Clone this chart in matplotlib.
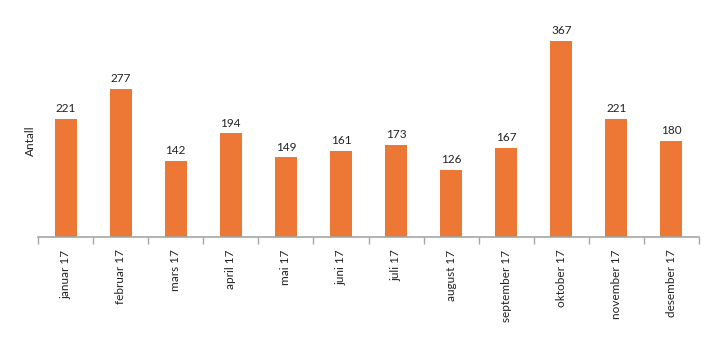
import matplotlib
matplotlib.use('Agg')
import matplotlib.pyplot as plt
import numpy as np

months = ['januar 17', 'februar 17', 'mars 17', 'april 17', 'mai 17', 'juni 17',
          'juli 17', 'august 17', 'september 17', 'oktober 17', 'november 17', 'desember 17']
antall = [221, 277, 142, 194, 149, 161, 173, 126, 167, 367, 221, 180]

plt.rcParams['font.family'] = ['Lato', 'DejaVu Sans']

fig = plt.figure(figsize=(7.2, 3.41), dpi=100)
ax = fig.add_axes([38/720, 104/341, 661/720, 213.6/341])

x = np.arange(len(months))
ax.bar(x, antall, width=0.4, color='#ED7836')
for xi, v in zip(x, antall):
    ax.text(xi, v + 9, str(v), ha='center', va='bottom', fontsize=8.5, color='#222222')

ax.set_xlim(-0.5, len(months) - 0.5)
ax.set_ylim(0, 400)
ax.set_yticks([])
for s in ['top', 'right', 'left']:
    ax.spines[s].set_visible(False)
ax.spines['bottom'].set_color('#A6A6A6')
ax.spines['bottom'].set_linewidth(1.2)

# tick marks at category boundaries, labels at centers
ax.set_xticks(np.arange(-0.5, len(months)), minor=False)
ax.set_xticklabels([])
ax.tick_params(axis='x', which='major', length=5, width=1, color='#A6A6A6', direction='out')
ax.set_xticks(x, minor=True)
ax.set_xticklabels(months, minor=True, rotation=90, fontsize=8.5, color='#222222')
ax.tick_params(axis='x', which='minor', length=0, pad=9)

fig.text(30/720, 1 - 141/341, 'Antall', rotation=90, ha='center', va='center',
         fontsize=8.5, color='#222222')

fig.savefig('out.png', dpi=100)
